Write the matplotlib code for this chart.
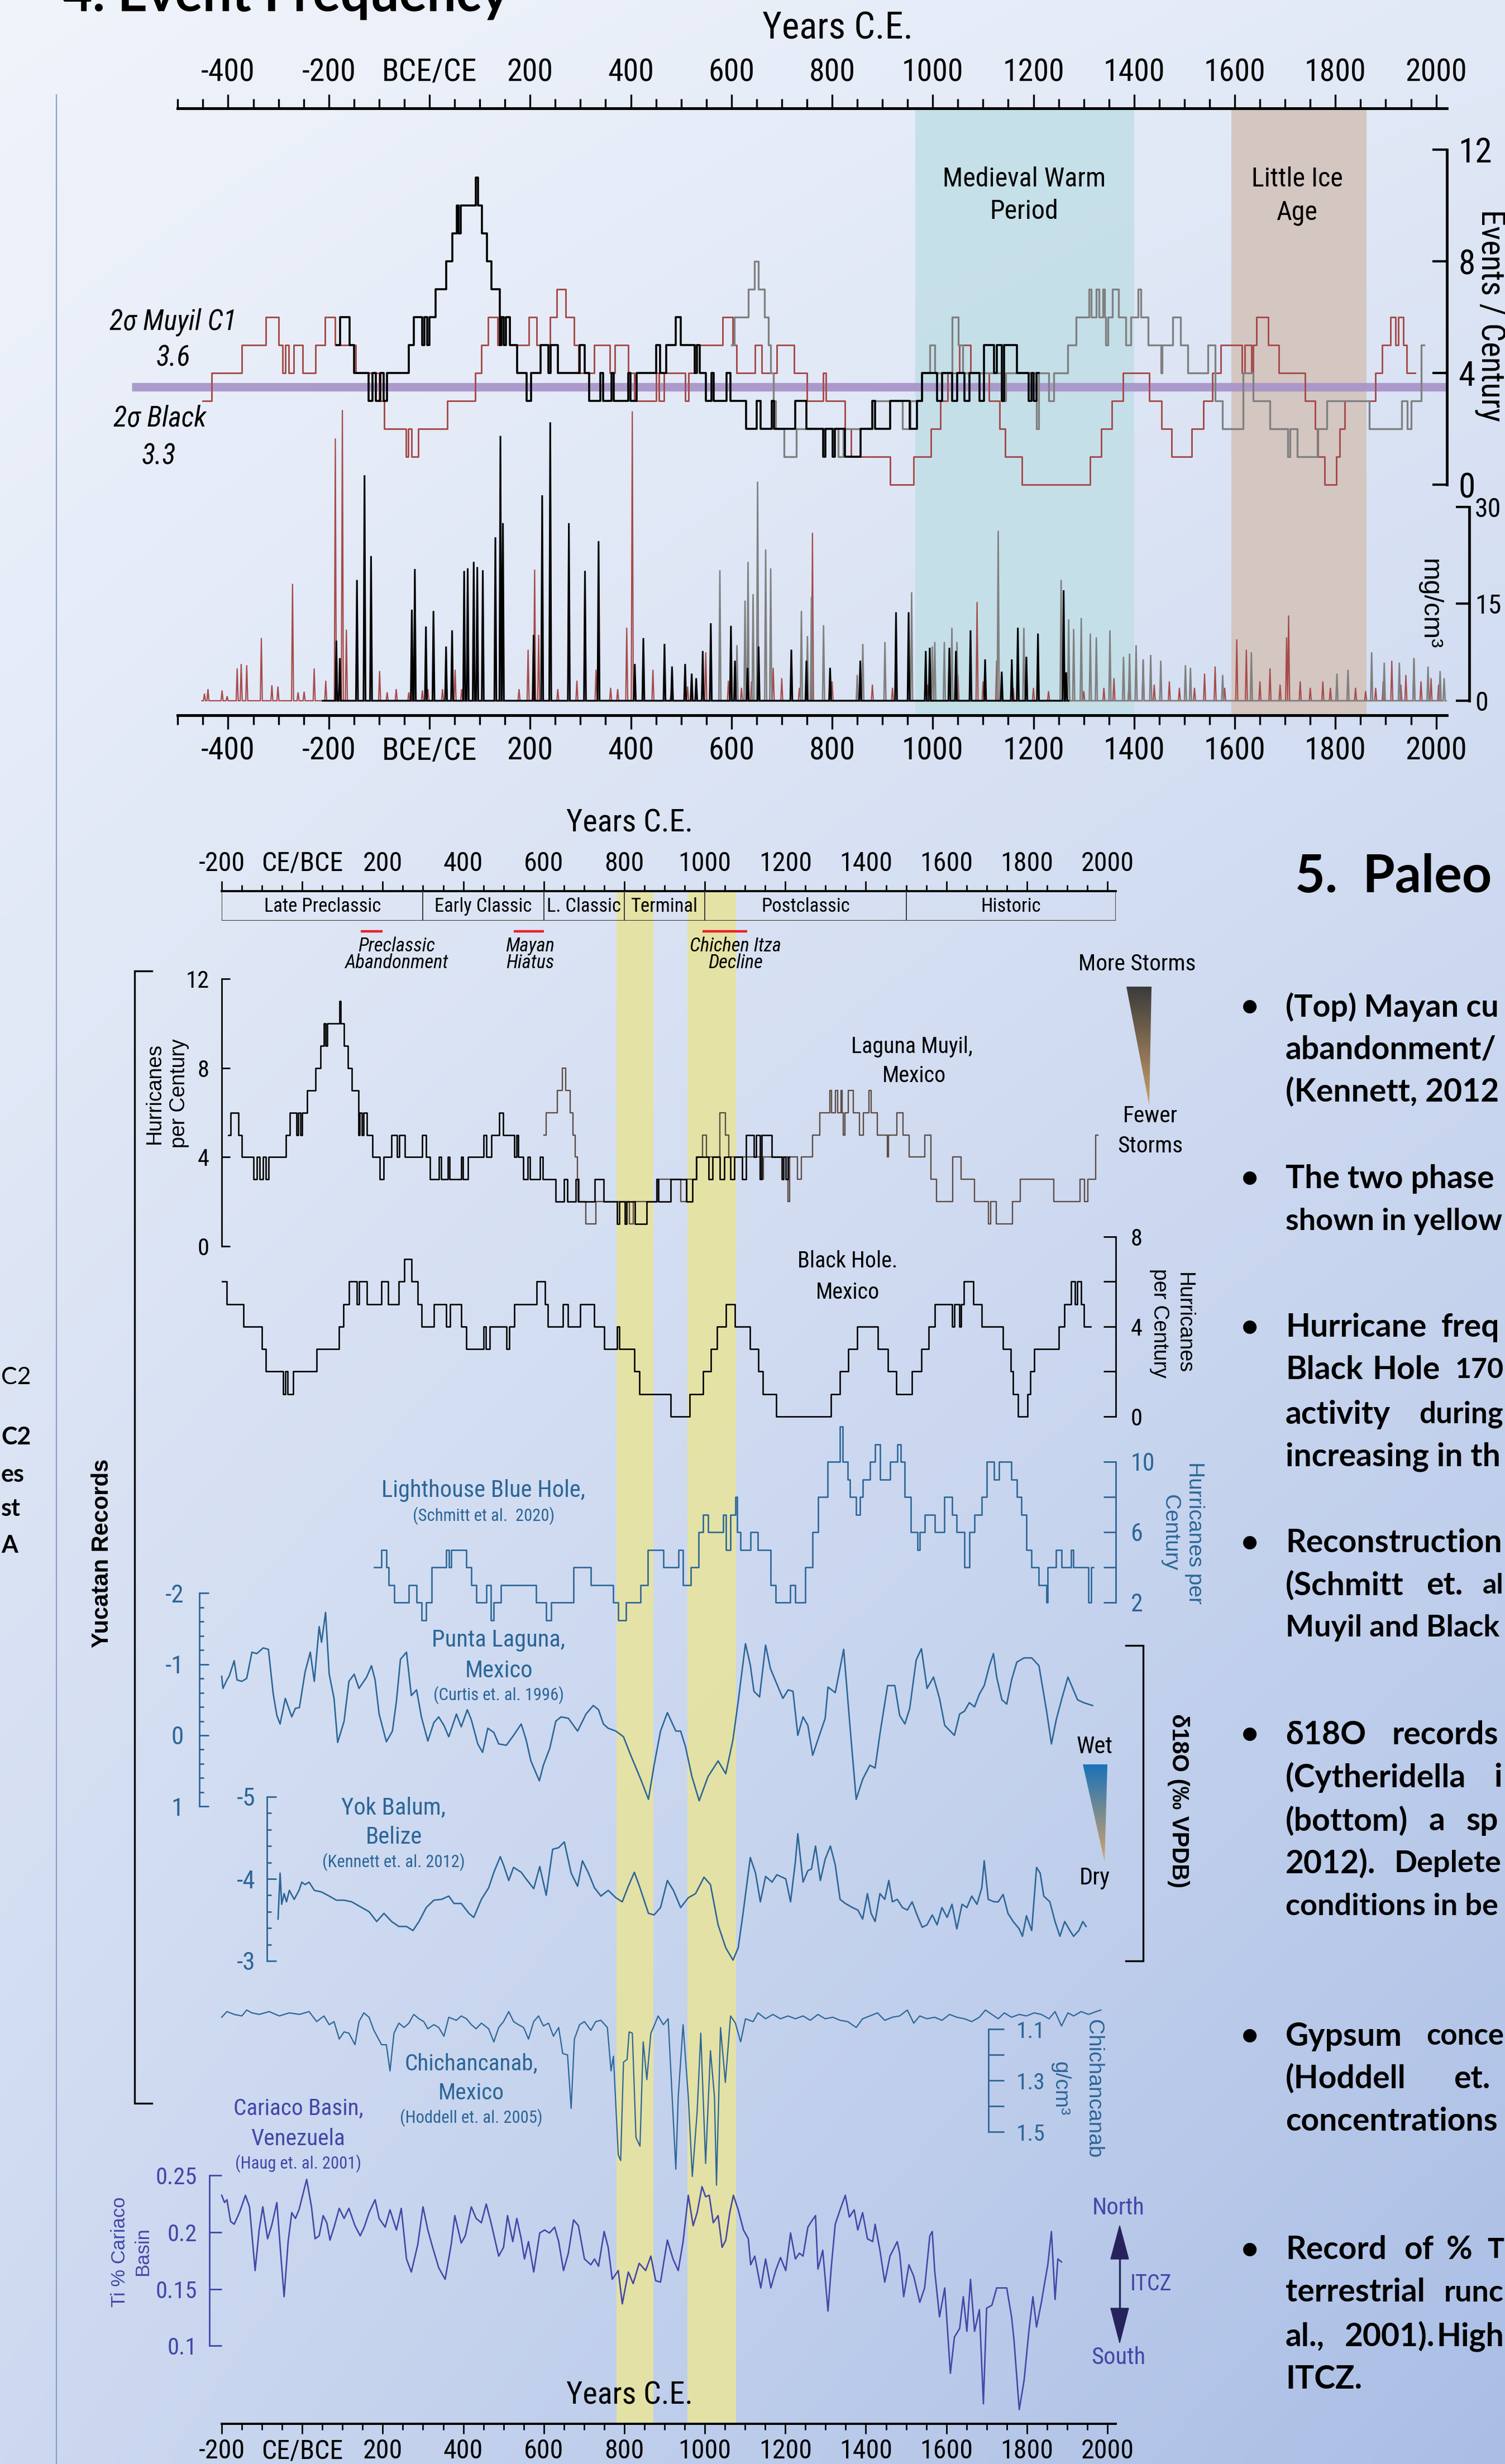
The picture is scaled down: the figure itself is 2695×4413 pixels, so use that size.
import numpy as np
import matplotlib
matplotlib.use("Agg")
import matplotlib.pyplot as plt
from matplotlib import font_manager
from matplotlib.colors import LinearSegmentedColormap
from matplotlib.patches import Polygon
from matplotlib.ticker import FixedLocator, FixedFormatter

# ---------------------------------------------------------------- data
# Hurricane frequency reconstructions: (start year CE, events per century)
MUYIL_C1 = [(-184, 5), (-178, 6), (-159, 5), (-150, 4), (-121, 3), (-113, 4), (-106, 3), (-98, 4),
            (-91, 3), (-84, 4), (-41, 5), (-31, 6), (-14, 5), (-10, 6), (-4, 5), (0, 6), (12, 7),
            (33, 8), (45, 9), (54, 10), (58, 9), (62, 10), (92, 11), (96, 10), (104, 9), (114, 8),
            (123, 7), (140, 5), (143, 6), (148, 5), (152, 6), (160, 5), (174, 4), (193, 3), (202, 4),
            (221, 5), (236, 4), (241, 5), (255, 4), (298, 5), (308, 4), (317, 3), (340, 4), (345, 3),
            (362, 4), (366, 3), (395, 4), (399, 3), (412, 4), (451, 5), (458, 4), (470, 5), (489, 6),
            (499, 5), (527, 4), (532, 5), (537, 4), (549, 3), (560, 4), (565, 3), (590, 4), (598, 3),
            (629, 2), (650, 3), (658, 2), (680, 3), (685, 2), (727, 3), (749, 2), (782, 1), (787, 2),
            (801, 1), (806, 2), (826, 1), (856, 2), (880, 3), (885, 2), (915, 3), (954, 2), (969, 3),
            (979, 4), (1009, 3), (1019, 4), (1038, 3), (1048, 4), (1063, 3), (1073, 4), (1093, 3),
            (1102, 5), (1122, 4), (1127, 5), (1137, 3), (1142, 5), (1167, 4), (1191, 3), (1196, 4),
            (1201, 3), (1206, 4)]
MUYIL_C1_END = 1210

MUYIL_C2 = [(600, 5), (606, 6), (633, 7), (646, 8), (654, 7), (666, 6), (673, 5), (678, 4), (683, 3),
            (688, 2), (705, 1), (729, 2), (812, 1), (822, 2), (880, 3), (940, 2), (955, 3), (979, 4),
            (994, 5), (1004, 4), (1038, 6), (1051, 5), (1060, 4), (1137, 3), (1145, 4), (1206, 2),
            (1211, 4), (1230, 3), (1240, 4), (1268, 5), (1285, 6), (1310, 7), (1315, 6), (1325, 7),
            (1330, 6), (1338, 7), (1341, 6), (1344, 5), (1348, 6), (1357, 7), (1369, 6), (1384, 5),
            (1394, 6), (1408, 7), (1413, 6), (1428, 5), (1453, 4), (1456, 5), (1477, 6), (1492, 5),
            (1507, 4), (1547, 5), (1561, 3), (1576, 2), (1616, 4), (1636, 3), (1670, 2), (1705, 1),
            (1710, 2), (1724, 1), (1764, 2), (1783, 3), (1867, 2), (1932, 3), (1943, 2), (1951, 3),
            (1971, 5)]
MUYIL_C2_END = 1976

BLACK_HOLE = [(-450, 3), (-433, 4), (-373, 5), (-325, 6), (-300, 5), (-292, 4), (-286, 5), (-280, 4),
              (-270, 5), (-252, 4), (-226, 5), (-207, 6), (-188, 5), (-146, 4), (-100, 3), (-90, 2),
              (-47, 1), (-42, 2), (-36, 1), (-22, 2), (36, 3), (91, 4), (103, 5), (116, 6), (135, 5),
              (141, 6), (160, 5), (197, 6), (213, 5), (240, 6), (253, 7), (271, 6), (287, 5), (296, 4),
              (327, 5), (358, 4), (368, 5), (395, 4), (407, 3), (450, 4), (456, 3), (466, 4), (508, 3),
              (515, 4), (527, 5), (582, 6), (603, 5), (610, 4), (647, 5), (660, 4), (690, 5), (725, 4),
              (750, 3), (782, 4), (788, 3), (825, 2), (838, 1), (915, 0), (962, 1), (996, 2), (1015, 3),
              (1030, 4), (1053, 5), (1075, 4), (1112, 3), (1133, 2), (1144, 1), (1177, 0), (1313, 1),
              (1335, 2), (1356, 3), (1378, 4), (1430, 3), (1455, 2), (1475, 1), (1515, 2), (1538, 3),
              (1556, 4), (1572, 5), (1614, 4), (1620, 5), (1633, 4), (1636, 5), (1643, 6), (1667, 5),
              (1688, 4), (1740, 3), (1760, 2), (1765, 1), (1778, 0), (1802, 1), (1808, 2), (1818, 3),
              (1880, 4), (1893, 5), (1910, 6), (1920, 5), (1925, 6), (1935, 5), (1942, 4)]
BLACK_HOLE_END = 1958

LIGHTHOUSE = [(178, 4), (197, 5), (209, 4), (215, 3), (228, 2), (265, 3), (284, 2), (296, 1), (308, 2),
              (321, 4), (358, 5), (364, 4), (370, 5), (407, 4), (420, 3), (432, 2), (457, 3), (469, 1),
              (476, 2), (494, 3), (581, 2), (606, 1), (618, 2), (674, 4), (717, 3), (773, 2), (785, 1),
              (804, 2), (841, 3), (859, 5), (897, 4), (934, 5), (946, 3), (965, 4), (984, 6), (996, 7),
              (1008, 6), (1045, 7), (1052, 5), (1064, 7), (1076, 8), (1080, 6), (1089, 5), (1114, 6),
              (1132, 5), (1163, 3), (1176, 2), (1212, 3), (1225, 2), (1250, 4), (1268, 6), (1281, 8),
              (1305, 10), (1336, 12), (1342, 10), (1355, 9), (1361, 8), (1376, 7), (1386, 8), (1392, 9),
              (1410, 10), (1423, 11), (1435, 9), (1460, 10), (1478, 11), (1487, 10), (1497, 8),
              (1512, 6), (1528, 5), (1534, 6), (1546, 7), (1571, 6), (1595, 8), (1614, 7), (1626, 6),
              (1645, 4), (1657, 6), (1670, 7), (1688, 8), (1700, 10), (1719, 9), (1731, 10), (1762, 9),
              (1775, 8), (1787, 7), (1799, 5), (1812, 4), (1830, 3), (1849, 2), (1852, 4), (1873, 5),
              (1886, 4), (1910, 5), (1916, 4), (1953, 2), (1960, 4)]
LIGHTHOUSE_END = 1966

# Coarse event layers (mg/cm3): spike years and heights for each core
C1_SPIKE_YEAR = [-185, -178, -144, -129, -116, -35, -29, -7, 8, 33, 45, 69, 76, 88, 95, 106, 131, 141,
                 146, 207, 224, 240, 277, 309, 336, 408, 425, 467, 482, 508, 521, 530, 543, 559, 599,
                 607, 632, 654, 719, 749, 796, 856, 927, 952, 986, 994, 1033, 1046, 1075, 1104, 1137,
                 1157, 1169, 1186, 1209, 1260, 1265]
C1_SPIKE_MG = [9.3, 6.6, 18.7, 34.9, 22.4, 14.1, 20.4, 11.5, 13.9, 8.4, 10.9, 20.1, 20.5, 21.5, 20.7,
               20.2, 25.3, 41.0, 27.5, 10.2, 31.8, 43.1, 27.5, 20.1, 24.7, 5.7, 9.7, 8.8, 5.3, 5.7, 4.2,
               3.5, 7.7, 12.0, 11.6, 6.2, 5.1, 8.4, 7.9, 6.2, 5.1, 6.2, 13.7, 13.7, 7.7, 8.2, 8.2, 7.7,
               10.9, 6.4, 4.5, 6.4, 11.3, 6.8, 10.4, 17.1, 4.4]
BH_SPIKE_YEAR = [-447, -440, -412, -402, -382, -374, -363, -334, -313, -301, -272, -261, -249, -229,
                 -206, -187, -173, -165, -99, -84, -66, -41, -14, -3, 26, 51, 64, 178, 196, 209, 217,
                 255, 293, 331, 360, 374, 392, 403, 444, 480, 513, 549, 594, 620, 640, 683, 700, 735,
                 761, 800, 850, 880, 920, 990, 1050, 1088, 1100, 1127, 1160, 1200, 1230, 1300, 1340,
                 1360, 1390, 1418, 1440, 1470, 1490, 1520, 1540, 1561, 1580, 1604, 1623, 1650, 1670,
                 1690, 1703, 1707, 1730, 1750, 1775, 1790, 1840, 1860, 1880, 1895, 1912, 1930, 1940,
                 1956, 1970, 1990, 2005]
BH_SPIKE_MG = [1.1, 1.8, 1.6, 0.7, 5.0, 5.7, 5.5, 9.7, 2.4, 2.2, 18.1, 1.3, 1.4, 5.0, 3.1, 40.6, 45.0,
               11.0, 4.6, 1.3, 1.8, 1.3, 1.6, 1.8, 1.8, 4.8, 1.8, 1.8, 7.9, 20.3, 10.2, 1.8, 3.1, 4.8,
               2.0, 1.8, 11.3, 44.8, 4.8, 0.9, 2.2, 7.5, 3.1, 2.0, 3.0, 5.1, 3.5, 2.0, 26.0, 3.0, 2.0,
               2.5, 2.0, 2.5, 4.0, 15.3, 3.0, 6.2, 2.0, 2.0, 1.5, 1.5, 2.0, 3.5, 3.0, 6.4, 2.5, 3.0,
               2.0, 2.0, 4.2, 5.3, 2.0, 9.5, 7.9, 3.0, 5.0, 2.5, 9.8, 13.2, 3.0, 2.0, 3.0, 2.0, 2.0,
               1.5, 2.0, 3.0, 6.2, 2.5, 4.0, 6.6, 3.0, 3.5, 2.5]
C2_SPIKE_YEAR = [577, 611, 627, 633, 643, 652, 668, 678, 739, 751, 759, 783, 850, 861, 905, 958, 999,
                 1004, 1023, 1038, 1048, 1130, 1181, 1255, 1270, 1280, 1295, 1313, 1325, 1352, 1379,
                 1391, 1404, 1418, 1433, 1453, 1502, 1512, 1576, 1633, 1803, 1825, 1872, 1897, 1927,
                 1956, 1984, 2008, 2016]
C2_SPIKE_MG = [20.2, 8.6, 15.5, 21.5, 16.5, 33.9, 23.4, 20.5, 13.9, 10.0, 16.1, 11.7, 4.0, 8.8, 9.1,
               16.8, 8.4, 9.1, 9.1, 11.3, 9.1, 26.3, 11.3, 18.7, 12.6, 11.1, 12.8, 10.4, 9.8, 10.9,
               6.8, 7.3, 8.6, 6.4, 7.1, 6.2, 5.5, 5.1, 4.0, 7.5, 4.2, 4.8, 7.5, 5.9, 5.9, 6.6, 5.3,
               4.6, 3.5]

# Punta Laguna ostracod d18O (per mil VPDB)
PUNTA = [(-200, -0.83), (-197, -0.66), (-187, -0.78), (-181, -0.84), (-169, -1.05), (-162, -0.78),
         (-150, -0.76), (-138, -0.80), (-125, -1.17), (-113, -1.15), (-97, -1.23), (-84, -1.21),
         (-72, -0.58), (-63, -0.28), (-55, -0.16), (-42, -0.52), (-26, -0.26), (-17, -0.38),
         (-7, -0.39), (7, -0.89), (20, -1.17), (30, -0.76), (42, -1.53), (48, -1.31), (58, -1.73),
         (67, -0.86), (79, -0.52), (88, 0.10), (104, -0.20), (116, -0.76), (129, -0.86), (141, -0.66),
         (160, -0.82), (172, -0.98), (181, -0.78), (191, -0.30), (209, 0.09), (224, -0.06),
         (234, -0.48), (244, -1.07), (259, -1.17), (271, -0.56), (284, -0.64), (296, -0.26),
         (312, 0.08), (327, -0.18), (339, -0.26), (352, -0.14), (364, 0.02), (383, -0.30),
         (395, -0.12), (410, -0.36), (420, -0.22), (436, 0.12), (448, 0.24), (461, -0.10),
         (476, -0.04), (488, 0.12), (507, 0.14), (525, 0.00), (544, -0.16), (556, 0.06), (568, 0.36),
         (589, 0.64), (599, 0.42), (615, 0.18), (630, -0.20), (643, -0.26), (661, -0.24),
         (684, -0.06), (705, -0.30), (723, -0.42), (736, -0.36), (748, -0.16), (760, -0.10),
         (779, -0.06), (798, 0.02), (816, 0.28), (841, 0.62), (860, 0.90), (874, 0.42), (890, -0.06),
         (907, -0.32), (928, -0.06), (940, -0.06), (952, 0.16), (968, 0.58), (986, 0.92),
         (1008, 0.58), (1033, 0.36), (1052, 0.54), (1070, 0.06), (1083, -0.48), (1101, -1.29),
         (1113, -0.99), (1122, -0.62), (1136, -0.54), (1151, -1.27), (1163, -0.94), (1182, -0.68),
         (1194, -0.52), (1207, -0.64), (1219, -0.62), (1231, 0.00), (1244, -0.26), (1256, -0.14),
         (1268, 0.28), (1281, 0.06), (1299, -0.24), (1306, -0.68), (1324, -0.60), (1345, -1.21),
         (1361, -0.10), (1376, 0.90), (1392, 0.62), (1410, 0.42), (1423, 0.46), (1435, -0.02),
         (1454, -0.70), (1472, -0.70), (1484, -0.28), (1497, -0.16), (1509, -0.38), (1525, -1.06),
         (1538, -1.22), (1552, -0.66), (1568, -0.82), (1583, -0.52), (1596, -0.14), (1620, 0.00),
         (1633, -0.30), (1645, -0.34), (1657, -0.46), (1670, -0.40), (1682, -0.58), (1694, -0.70),
         (1707, -0.98), (1717, -1.15), (1725, -0.82), (1738, -0.50), (1750, -0.44), (1762, -0.78),
         (1775, -1.03), (1793, -1.09), (1812, -1.09), (1830, -0.98), (1849, -0.34), (1861, 0.12),
         (1873, -0.22), (1886, -0.50), (1902, -0.82), (1914, -0.66), (1926, -0.50), (1941, -0.46),
         (1963, -0.42)]

# Yok Balum speleothem d18O (per mil VPDB)
YOK = [(-60, -3.51), (-55, -4.07), (-51, -3.69), (-45, -3.82), (-39, -3.72), (-32, -3.86),
       (-20, -3.75), (-8, -3.86), (-1, -3.96), (7, -3.93), (17, -3.96), (30, -3.86), (48, -3.84),
       (67, -3.79), (85, -3.74), (104, -3.74), (123, -3.72), (141, -3.67), (166, -3.60), (185, -3.48),
       (203, -3.58), (222, -3.48), (240, -3.42), (259, -3.42), (275, -3.37), (290, -3.48),
       (308, -3.65), (327, -3.74), (346, -3.75), (364, -3.79), (377, -3.70), (395, -3.70),
       (414, -3.58), (426, -3.53), (445, -3.75), (463, -3.89), (476, -4.08), (492, -4.27),
       (500, -4.17), (513, -3.98), (525, -4.14), (544, -4.08), (556, -4.00), (575, -3.88),
       (590, -4.15), (606, -3.80), (622, -4.36), (637, -4.38), (651, -4.45), (668, -4.07),
       (684, -3.91), (696, -4.22), (711, -4.07), (726, -3.89), (742, -3.79), (760, -3.86),
       (779, -3.77), (795, -3.72), (810, -3.91), (825, -4.08), (839, -3.89), (860, -3.58),
       (874, -3.56), (890, -3.65), (907, -3.98), (922, -3.86), (940, -3.65), (959, -3.77),
       (977, -3.82), (998, -4.02), (1014, -3.93), (1033, -3.44), (1052, -3.16), (1070, -3.01),
       (1083, -3.16), (1095, -3.58), (1113, -4.26), (1126, -4.07), (1138, -3.72), (1151, -4.03),
       (1167, -3.96), (1179, -4.05), (1201, -4.00), (1213, -3.72), (1225, -4.21), (1231, -4.55),
       (1244, -3.96), (1256, -4.10), (1265, -4.12), (1275, -4.40), (1287, -3.98), (1299, -4.24),
       (1312, -4.40), (1324, -4.17), (1336, -3.75), (1349, -3.70), (1367, -3.65), (1380, -3.62),
       (1392, -3.51), (1404, -3.82), (1413, -3.58), (1423, -3.48), (1435, -3.82), (1447, -3.75),
       (1457, -3.98), (1466, -3.72), (1478, -3.75), (1491, -3.65), (1503, -3.62), (1515, -3.72),
       (1528, -3.55), (1540, -3.41), (1552, -3.44), (1565, -3.56), (1577, -3.44), (1589, -3.65),
       (1602, -3.53), (1614, -3.69), (1626, -3.39), (1639, -3.69), (1651, -3.65), (1663, -3.79),
       (1676, -3.69), (1688, -3.89), (1694, -4.22), (1704, -3.75), (1719, -3.72), (1729, -3.72),
       (1741, -3.81), (1753, -3.58), (1766, -3.48), (1781, -3.39), (1789, -3.30), (1799, -3.55),
       (1812, -3.37), (1824, -4.14), (1833, -4.07), (1842, -3.79), (1857, -3.72), (1870, -3.48),
       (1882, -3.30), (1894, -3.48), (1907, -3.37), (1916, -3.30), (1929, -3.37), (1939, -3.48),
       (1947, -3.42)]

# Chichancanab sediment density (g/cm3)
CHICH = [(-200, 1.054), (-187, 1.032), (-169, 1.043), (-150, 1.049), (-138, 1.026), (-125, 1.037),
         (-107, 1.043), (-82, 1.032), (-57, 1.049), (-32, 1.037), (-7, 1.043), (17, 1.032),
         (36, 1.071), (54, 1.049), (67, 1.083), (79, 1.071), (92, 1.139), (104, 1.111), (116, 1.116),
         (131, 1.161), (141, 1.071), (153, 1.037), (166, 1.054), (178, 1.105), (197, 1.161),
         (209, 1.161), (218, 1.263), (228, 1.116), (240, 1.077), (253, 1.094), (265, 1.077),
         (277, 1.043), (290, 1.060), (302, 1.071), (312, 1.099), (327, 1.083), (339, 1.094),
         (352, 1.128), (364, 1.054), (383, 1.066), (395, 1.049), (408, 1.060), (420, 1.083),
         (432, 1.099), (445, 1.077), (463, 1.099), (476, 1.150), (488, 1.094), (500, 1.071),
         (513, 1.032), (525, 1.071), (537, 1.083), (550, 1.094), (562, 1.139), (575, 1.071),
         (587, 1.049), (599, 1.088), (612, 1.077), (624, 1.128), (637, 1.094), (647, 1.195),
         (659, 1.201), (668, 1.409), (676, 1.139), (689, 1.083), (701, 1.071), (717, 1.105),
         (729, 1.071), (742, 1.066), (758, 1.094), (767, 1.263), (773, 1.206), (785, 1.590),
         (791, 1.612), (798, 1.229), (807, 1.218), (812, 1.111), (820, 1.116), (829, 1.522),
         (839, 1.556), (847, 1.150), (856, 1.297), (866, 1.116), (874, 1.088), (884, 1.049),
         (897, 1.083), (909, 1.060), (928, 1.646), (934, 1.364), (946, 1.083), (959, 1.364),
         (969, 1.674), (981, 1.421), (990, 1.116), (1002, 1.623), (1014, 1.184), (1024, 1.364),
         (1029, 1.708), (1039, 1.094), (1051, 1.308), (1064, 1.049), (1076, 1.077), (1089, 1.150),
         (1101, 1.060), (1120, 1.071), (1132, 1.037), (1151, 1.060), (1169, 1.043), (1188, 1.060),
         (1207, 1.049), (1225, 1.060), (1244, 1.049), (1262, 1.066), (1281, 1.043), (1299, 1.060),
         (1318, 1.054), (1336, 1.066), (1355, 1.071), (1376, 1.094), (1392, 1.060), (1410, 1.049),
         (1429, 1.037), (1447, 1.066), (1466, 1.054), (1484, 1.049), (1503, 1.026), (1519, 1.077),
         (1534, 1.049), (1552, 1.060), (1571, 1.054), (1589, 1.066), (1608, 1.043), (1626, 1.054),
         (1645, 1.060), (1663, 1.071), (1682, 1.054), (1697, 1.026), (1713, 1.043), (1729, 1.060),
         (1744, 1.037), (1762, 1.054), (1781, 1.043), (1799, 1.049), (1818, 1.037), (1836, 1.043),
         (1855, 1.060), (1870, 1.032), (1886, 1.088), (1902, 1.037), (1916, 1.049), (1935, 1.032),
         (1953, 1.043), (1972, 1.032), (1984, 1.026)]

# Cariaco Basin titanium (%)
CARIACO = [(-200, 0.2326), (-193, 0.2262), (-187, 0.2287), (-178, 0.2096), (-169, 0.2071),
           (-156, 0.2173), (-141, 0.2326), (-131, 0.2224), (-117, 0.1663), (-107, 0.2020),
           (-98, 0.2224), (-86, 0.1943), (-76, 0.2058), (-63, 0.2262), (-53, 0.1790), (-45, 0.1433),
           (-35, 0.1918), (-26, 0.2173), (-17, 0.2122), (-8, 0.2198), (11, 0.2466), (23, 0.2224),
           (32, 0.1943), (42, 0.1969), (52, 0.2147), (61, 0.2084), (69, 0.1931), (79, 0.2045),
           (92, 0.2211), (104, 0.2122), (116, 0.2211), (131, 0.2058), (144, 0.1969), (154, 0.2045),
           (166, 0.2173), (181, 0.2287), (191, 0.2122), (206, 0.2045), (218, 0.2198), (234, 0.2020),
           (246, 0.2211), (259, 0.1765), (271, 0.1650), (287, 0.1892), (300, 0.2224), (312, 0.2020),
           (324, 0.1867), (339, 0.1688), (355, 0.1586), (370, 0.1892), (379, 0.2147), (395, 0.1905),
           (405, 0.1969), (420, 0.2224), (432, 0.2122), (445, 0.2084), (457, 0.2249), (469, 0.2084),
           (488, 0.1790), (500, 0.1867), (510, 0.2147), (523, 0.1918), (533, 0.2122), (544, 0.1943),
           (552, 0.1765), (562, 0.1918), (575, 0.1650), (590, 0.1994), (602, 0.2020), (614, 0.1994),
           (627, 0.2045), (637, 0.1918), (649, 0.1663), (661, 0.1816), (674, 0.2109), (686, 0.2058),
           (701, 0.1765), (717, 0.1714), (726, 0.1765), (736, 0.1701), (750, 0.2007), (760, 0.1867),
           (770, 0.1586), (785, 0.1663), (795, 0.1370), (810, 0.1650), (822, 0.1548), (837, 0.1727),
           (853, 0.1663), (866, 0.1790), (878, 0.1574), (890, 0.1561), (907, 0.1931), (921, 0.1765),
           (934, 0.1663), (946, 0.1918), (959, 0.2326), (971, 0.2058), (981, 0.2173), (993, 0.2402),
           (1002, 0.2313), (1011, 0.2326), (1021, 0.2084), (1033, 0.2147), (1043, 0.1867),
           (1052, 0.1930), (1062, 0.2173), (1071, 0.2326), (1083, 0.2198), (1096, 0.2020),
           (1108, 0.1943), (1114, 0.1714), (1124, 0.1790), (1139, 0.1510), (1151, 0.1765),
           (1164, 0.1510), (1176, 0.1663), (1188, 0.1778), (1201, 0.1663), (1213, 0.1994),
           (1225, 0.1765), (1235, 0.1816), (1244, 0.1790), (1256, 0.2045), (1265, 0.2096),
           (1275, 0.2147), (1281, 0.1676), (1293, 0.1841), (1306, 0.1306), (1314, 0.1688),
           (1324, 0.2071), (1336, 0.2198), (1349, 0.2326), (1359, 0.2134), (1371, 0.2198),
           (1380, 0.2020), (1392, 0.2173), (1404, 0.1943), (1417, 0.1918), (1423, 0.2071),
           (1435, 0.1841), (1447, 0.1561), (1460, 0.1790), (1478, 0.1918), (1484, 0.1816),
           (1494, 0.1433), (1507, 0.1714), (1519, 0.1612), (1534, 0.1383), (1546, 0.1510),
           (1559, 0.1969), (1565, 0.2007), (1571, 0.1663), (1583, 0.1255), (1596, 0.1510),
           (1610, 0.0758), (1620, 0.1077), (1633, 0.1153), (1642, 0.1433), (1651, 0.1128),
           (1660, 0.1586), (1670, 0.1128), (1682, 0.1319), (1692, 0.0490), (1700, 0.1332),
           (1713, 0.1357), (1725, 0.1510), (1737, 0.1510), (1750, 0.1510), (1762, 0.1255),
           (1768, 0.1051), (1781, 0.0439), (1793, 0.0694), (1805, 0.1128), (1815, 0.1433),
           (1824, 0.1166), (1836, 0.1383), (1842, 0.1510), (1852, 0.1714), (1861, 0.2007),
           (1870, 0.1408), (1877, 0.1765), (1886, 0.1739)]

# Climate periods and cultural events
MWP = (965, 1400)
LIA = (1593, 1862)
DROUGHT_PHASES = [(781, 872), (957, 1077)]
PERIODS = [("Late Preclassic", -200, 300), ("Early Classic", 300, 600), ("L. Classic", 600, 800),
           ("Terminal", 800, 1000), ("Postclassic", 1000, 1500), ("Historic", 1500, 2021)]
CULTURE_EVENTS = [("Preclassic\nAbandonment", 145, 200, 234), ("Mayan\nHiatus", 525, 600, 566),
                  ("Chichen Itza\nDecline", 995, 1105, 1076)]
MEAN_RATE = 3.5
TOP_MAJOR = list(range(-400, 2001, 200))
TOP_MINOR = list(range(-500, 2001, 50))
LOW_MAJOR = list(range(-200, 2001, 200))
LOW_MINOR = list(range(-200, 2001, 50))

# ---------------------------------------------------------------- fonts
_faces = font_manager.fontManager.ttflist
_names = {f.name for f in _faces}


def pick_narrow():
    # preferred condensed families, with a size factor relative to Arial Narrow
    for nm, scale in [("Liberation Sans Narrow", 1.0), ("Arial Narrow", 1.0),
                      ("Roboto Condensed", 0.96), ("Open Sans Condensed", 0.92)]:
        if nm in _names:
            return nm, "normal", scale
    for nm, scale in [("Roboto", 0.96), ("Noto Sans", 0.9), ("Open Sans", 0.9)]:
        if any(f.name == nm and f.stretch in ("condensed", "semi-condensed", "extra-condensed")
               for f in _faces):
            return nm, "condensed", scale
    return "Liberation Sans", "normal", 0.86


NARROW, NARROW_STRETCH, NS = pick_narrow()
SANS = "Liberation Sans"
BODY = "Lato" if "Lato" in _names else "DejaVu Sans"
plt.rcParams["font.family"] = [NARROW, "DejaVu Sans"]
plt.rcParams["font.stretch"] = NARROW_STRETCH

RED = "#a64b4b"
GRAY = "#808080"
BROWN = "#5d4c45"
BLUE = "#2c6698"
INDIGO = "#4547a8"
PURPLE = "#a893c9"
MWP_C = "#c3dfe8"
LIA_C = "#d4c5bf"
YELLOW = "#e7e3a0"

W, H, DPI = 2695, 4413, 100
fig = plt.figure(figsize=(W / DPI, H / DPI), dpi=DPI)

TOPX = (769.0, 0.9013)   # pixel column of year 0 and pixels per year, upper record
LOWX = (541.2, 0.7209)   # same for the Yucatan stack


def panel(xmap, xlim, ymap, ylim, z=5):
    x0 = xmap[0] + xmap[1] * xlim[0]
    x1 = xmap[0] + xmap[1] * xlim[1]
    ya = ymap[0] + ymap[1] * ylim[0]
    yb = ymap[0] + ymap[1] * ylim[1]
    ax = fig.add_axes([x0 / W, 1 - max(ya, yb) / H, (x1 - x0) / W, abs(yb - ya) / H])
    ax.set_xlim(*xlim)
    if ya > yb:
        ax.set_ylim(ylim[0], ylim[1])
    else:
        ax.set_ylim(ylim[1], ylim[0])
    ax.patch.set_visible(False)
    for s in ax.spines.values():
        s.set_visible(False)
    ax.set_xticks([])
    ax.set_yticks([])
    ax.set_zorder(z)
    return ax


def spine(ax, side, lw, color="black", bounds=None):
    sp = ax.spines[side]
    sp.set_visible(True)
    sp.set_linewidth(lw)
    sp.set_color(color)
    if bounds is not None:
        sp.set_bounds(*bounds)


def yaxis(ax, side, ticks, labels, size, length, width, pad, color="black",
          direction="in", minor=None, minor_len=0):
    ax.yaxis.set_major_locator(FixedLocator(ticks))
    ax.yaxis.set_major_formatter(FixedFormatter(labels))
    if side == "right":
        ax.yaxis.tick_right()
    else:
        ax.yaxis.tick_left()
    ax.tick_params(axis="y", which="major", direction=direction, length=length, width=width,
                   labelsize=size * NS, pad=pad, colors=color)
    if minor is not None:
        ax.yaxis.set_minor_locator(FixedLocator(minor))
        ax.tick_params(axis="y", which="minor", direction=direction, length=minor_len,
                       width=width, colors=color)


def step_xy(pairs, end):
    xs = [p[0] for p in pairs] + [end]
    ys = [p[1] for p in pairs] + [pairs[-1][1]]
    return xs, ys


def spike_xy(years, heights, start, end, half=2.0):
    xs, ys = [start], [0.0]
    for yr, h in sorted(zip(years, heights)):
        xs += [yr - half, yr, yr + half]
        ys += [0.0, h, 0.0]
    xs.append(end)
    ys.append(0.0)
    return xs, ys


# ---------------------------------------------------------------- background
bg = fig.add_axes([0, 0, 1, 1])
bg.set_zorder(-10)
yy = np.linspace(0, 1, 240)[:, None]
xx = np.linspace(0, 1, 150)[None, :]
tt = 0.2 * xx + 0.5 * yy + 0.3 * xx * yy
c0 = np.array([240, 244, 251]) / 255.0
c1 = np.array([170, 190, 229]) / 255.0
bg.imshow(c0 + (c1 - c0) * tt[..., None], extent=(0, 1, 0, 1), aspect="auto",
          interpolation="bilinear")
bg.axis("off")

# ---------------------------------------------------------------- upper record
frame = panel(TOPX, (-500, 2021), (1281, -1087), (0, 1), z=1)
frame.axvspan(*MWP, color=MWP_C, alpha=0.9, lw=0)
frame.axvspan(*LIA, color=LIA_C, alpha=0.95, lw=0)
frame.xaxis.set_major_locator(FixedLocator(TOP_MAJOR))
frame.xaxis.set_major_formatter(FixedFormatter(["BCE/CE" if v == 0 else str(v) for v in TOP_MAJOR]))
frame.xaxis.set_minor_locator(FixedLocator(TOP_MINOR))
frame.tick_params(axis="x", which="both", top=True, bottom=True, labeltop=True, labelbottom=True,
                  direction="out", width=2.4, colors="black")
frame.tick_params(axis="x", which="major", length=18, labelsize=42 * NS, pad=9)
frame.tick_params(axis="x", which="minor", length=12)
spine(frame, "top", 3.6)
spine(frame, "bottom", 3.6)

ev = panel(TOPX, (-500, 2021), (868, -50.0), (0, 12), z=6)
ev.plot([-591, 2021], [MEAN_RATE, MEAN_RATE], color=PURPLE, lw=11, alpha=0.92,
        solid_capstyle="butt", clip_on=False, zorder=1)
for pairs, end, col, lw in [(BLACK_HOLE, BLACK_HOLE_END, RED, 2.1),
                            (MUYIL_C2, MUYIL_C2_END, GRAY, 2.4),
                            (MUYIL_C1, MUYIL_C1_END, "black", 2.6)]:
    xs, ys = step_xy(pairs, end)
    ev.step(xs, ys, where="post", color=col, lw=lw, clip_on=False, zorder=3)
spine(ev, "right", 3.6, bounds=(0, 12))
yaxis(ev, "right", [0, 4, 8, 12], ["0", "4", "8", "12"], 46, 19, 3.0, 15)

sp_ax = panel(TOPX, (-500, 2066), (1255, -11.57), (0, 30), z=6)
for yrs, hts, start, end, col, lw in [(BH_SPIKE_YEAR, BH_SPIKE_MG, -452, 2010, RED, 1.6),
                                      (C2_SPIKE_YEAR, C2_SPIKE_MG, 570, 2020, GRAY, 1.9),
                                      (C1_SPIKE_YEAR, C1_SPIKE_MG, -212, 1270, "black", 2.2)]:
    xs, ys = spike_xy(yrs, hts, start, end)
    sp_ax.plot(xs, ys, color=col, lw=lw, clip_on=False, solid_joinstyle="miter")
spine(sp_ax, "right", 3.6, bounds=(0, 30))
yaxis(sp_ax, "right", [0, 15, 30], ["0", "15", "30"], 36, 17, 3.0, 7)

# ---------------------------------------------------------------- Yucatan stack
lframe = panel(LOWX, (-200, 2021), (4341, -2745), (0, 1), z=1)
for a, b in DROUGHT_PHASES:
    lframe.axvspan(a, b, color=YELLOW, alpha=0.92, lw=0)
lframe.xaxis.set_major_locator(FixedLocator(LOW_MAJOR))
lframe.xaxis.set_major_formatter(FixedFormatter(["CE/BCE" if v == 0 else str(v) for v in LOW_MAJOR]))
lframe.xaxis.set_minor_locator(FixedLocator(LOW_MINOR))
lframe.tick_params(axis="x", which="both", top=True, bottom=True, labeltop=True, labelbottom=True,
                   direction="out", width=2.0, colors="black")
lframe.tick_params(axis="x", which="major", length=13, labelsize=36 * NS, pad=6)
lframe.tick_params(axis="x", which="minor", length=8)
spine(lframe, "top", 2.8)
spine(lframe, "bottom", 2.8)

per = panel(LOWX, (-200, 2021), (1649, -53), (0, 1), z=6)
per.vlines([p[1] for p in PERIODS] + [PERIODS[-1][2]], 0, 1, color="#3a3a3a", lw=1.4)
per.hlines(0, -200, 2021, color="#3a3a3a", lw=1.6)
for name, a, b in PERIODS:
    per.text((a + b) / 2, 0.48, name, ha="center", va="center", fontsize=26 * NS)

evt = panel(LOWX, (-200, 2021), (1740, -85), (0, 1), z=6)
for name, a, b, xc in CULTURE_EVENTS:
    evt.hlines(0.85, a, b, color="#e8222a", lw=3.2)
    evt.text(xc, 0.36, name, ha="center", va="center", fontsize=26 * NS, style="italic",
             linespacing=0.85)

muy = panel(LOWX, (-200, 2021), (2232, -39.9), (0, 12), z=6)
xs, ys = step_xy(MUYIL_C2, MUYIL_C2_END)
muy.step(xs, ys, where="post", color=BROWN, lw=1.7, clip_on=False)
xs, ys = step_xy(MUYIL_C1, MUYIL_C1_END)
muy.step(xs, ys, where="post", color="black", lw=1.9, clip_on=False)
spine(muy, "left", 2.0, bounds=(0, 12))
yaxis(muy, "left", [0, 4, 8, 12], ["0", "4", "8", "12"], 32, 11, 2.0, 16)

bh = panel(LOWX, (-200, 2021), (2537, -40.3), (-0.4, 8.4), z=6)
xs, ys = step_xy(BLACK_HOLE, BLACK_HOLE_END)
bh.step(xs, ys, where="post", color="black", lw=1.9)
spine(bh, "right", 2.0, bounds=(0, 8))
yaxis(bh, "right", [0, 2, 4, 6, 8], ["0", "", "4", "", "8"], 32, 16, 2.0, 19)

lbh = panel(LOWX, (-200, 2021), (2933, -31.5), (0.5, 12.5), z=6)
xs, ys = step_xy(LIGHTHOUSE, LIGHTHOUSE_END)
lbh.step(xs, ys, where="post", color=BLUE, lw=1.9)
spine(lbh, "right", 2.0, color=BLUE, bounds=(2, 10))
yaxis(lbh, "right", [2, 4, 6, 8, 10], ["2", "", "6", "", "10"], 33, 16, 2.0, 19, color=BLUE)

pl = panel(LOWX, (-255.5, 2021), (3108, 127.3), (-2, 1.05), z=6)
pl.plot([p[0] for p in PUNTA], [p[1] for p in PUNTA], color=BLUE, lw=1.9, clip_on=False)
spine(pl, "left", 2.0, color=BLUE, bounds=(-2, 1))
yaxis(pl, "left", [-2, -1, 0, 1], ["-2", "-1", "0", "1"], 34, 12, 2.0, 20, color=BLUE,
      minor=list(np.round(np.arange(-2, 1.01, 0.2), 2)), minor_len=6)

yk = panel(LOWX, (-87.6, 2021), (3953, 147), (-5, -2.95), z=6)
yk.plot([p[0] for p in YOK], [p[1] for p in YOK], color=BLUE, lw=1.9, clip_on=False)
spine(yk, "left", 2.0, color=BLUE, bounds=(-5, -3))
yaxis(yk, "left", [-5, -4, -3], ["-5", "-4", "-3"], 34, 12, 2.0, 15, color=BLUE,
      minor=list(np.round(np.arange(-5, -2.99, 0.2), 2)), minor_len=6)

ch = panel(LOWX, (-200, 2021), (3128, 460), (0.98, 1.75), z=6)
ch.plot([p[0] for p in CHICH], [p[1] for p in CHICH], color=BLUE, lw=1.6, clip_on=False)
spine(ch, "right", 2.0, color=BLUE, bounds=(1.1, 1.5))
ch.spines["right"].set_position(("data", 1704.5))
yaxis(ch, "right", [1.1, 1.2, 1.3, 1.4, 1.5], ["1.1", "", "1.3", "", "1.5"], 31, 20, 2.0, 16,
      color=BLUE, direction="out")

ca = panel(LOWX, (-230.5, 2021), (4404.8, -2034), (0.03, 0.26), z=6)
ca.plot([p[0] for p in CARIACO], [p[1] for p in CARIACO], color=INDIGO, lw=1.9, clip_on=False)
spine(ca, "left", 2.0, color=INDIGO, bounds=(0.1, 0.25))
yaxis(ca, "left", [0.1, 0.15, 0.2, 0.25], ["0.1", "0.15", "0.2", "0.25"], 32, 16, 2.0, 16,
      color=INDIGO)

# ---------------------------------------------------------------- annotations (pixel space)
ov = fig.add_axes([0, 0, 1, 1])
ov.set_zorder(50)
ov.patch.set_visible(False)
ov.axis("off")


def limits():
    ov.set_xlim(0, W)
    ov.set_ylim(H, 0)


limits()


def T(x, y, s, size, family=None, **kw):
    """Place a label in figure pixels; labels without a family use the condensed face."""
    kw.setdefault("ha", "center")
    kw.setdefault("va", "center")
    if family is None:
        size = size * NS
    else:
        kw["family"] = family
        kw["stretch"] = "normal"
    return ov.text(x, y, s, fontsize=size, **kw)


def grad_triangle(pts, c_top, c_bot):
    xs = [p[0] for p in pts]
    ys = [p[1] for p in pts]
    cmap = LinearSegmentedColormap.from_list("tri", [c_top, c_bot])
    im = ov.imshow(np.linspace(0, 1, 256)[:, None], extent=(min(xs), max(xs), max(ys), min(ys)),
                   cmap=cmap, aspect="auto", zorder=5, interpolation="bilinear")
    poly = Polygon(pts, closed=True, facecolor="none", edgecolor="none", transform=ov.transData)
    ov.add_patch(poly)
    im.set_clip_path(poly)
    limits()


# left rule and section title
ov.plot([101, 101], [170, H], color="#8c9fc4", lw=1.6)
T(112, 20, "4. Event Frequency", 67, BODY, weight="bold", ha="left", va="baseline")

# upper record labels
T(1500, 52, "Years C.E.", 50)
T(1834, 321, "Medieval Warm", 36)
T(1834, 379, "Period", 36)
T(2323, 321, "Little Ice", 36)
T(2323, 381, "Age", 36)
T(310, 577, "2σ Muyil C1", 38, style="italic")
T(310, 642, "3.6", 38, style="italic")
T(286, 750, "2σ Black", 38, style="italic")
T(284, 818, "3.3", 38, style="italic")
T(2669, 565, "Events / Century", 44, rotation=-90)
T(2559, 1082, "mg/cm³", 35, SANS, rotation=-90)

# Yucatan stack labels
T(1127, 1474, "Years C.E.", 42)
T(1127, 4290, "Years C.E.", 42)
ov.plot([272, 241, 241, 272], [1739, 1739, 3767, 3767], color="black", lw=2.4,
        solid_joinstyle="miter")
T(183, 2782, "Yucatan Records", 30, SANS, weight="bold", rotation=90)
T(299, 1958, "Hurricanes\nper Century", 27, SANS, rotation=90, linespacing=1.3)
T(1633, 1875, "Laguna Muyil,", 30)
T(1637, 1926, "Mexico", 30)
T(2036, 1726, "More Storms", 31)
grad_triangle([(2017, 1767), (2062, 1767), (2058, 1980)], "#3b3b3b", "#cba06a")
T(2060, 1998, "Fewer", 31)
T(2060, 2052, "Storms", 31)
T(1518, 2258, "Black Hole.", 30)
T(1518, 2314, "Mexico", 30)
T(2098, 2370, "Hurricanes\nper Century", 27, SANS, rotation=-90, linespacing=1.3)
T(866, 2669, "Lighthouse Blue Hole,", 32, color=BLUE)
T(866, 2715, "(Schmitt et al.  2020)", 23, color=BLUE)
T(2117, 2745, "Hurricanes per\nCentury", 28, SANS, rotation=-90, linespacing=1.3, color=BLUE)
T(893, 2937, "Punta Laguna,", 32, color=BLUE)
T(893, 2993, "Mexico", 32, color=BLUE)
T(893, 3036, "(Curtis et. al. 1996)", 23, color=BLUE)
T(705, 3238, "Yok Balum,", 32, color=BLUE)
T(705, 3291, "Belize", 32, color=BLUE)
T(705, 3335, "(Kennett et. al. 2012)", 23, color=BLUE)
T(1960, 3128, "Wet", 32)
grad_triangle([(1939, 3160), (1983, 3160), (1978, 3334)], "#1a72b8", "#d6a46a")
T(1960, 3363, "Dry", 32)
ov.plot([2016, 2047, 2047, 2016], [2947, 2947, 3512, 3512], color="black", lw=2.4,
        solid_joinstyle="miter")
T(2110, 3225, "δ18O (‰ VPDB)", 30, SANS, weight="bold", rotation=-90)
T(844, 3696, "Chichancanab,", 31, color=BLUE)
T(844, 3748, "Mexico", 31, color=BLUE)
T(844, 3793, "(Hoddell et. al. 2005)", 23, color=BLUE)
T(1958, 3741, "Chichancanab", 28, SANS, rotation=-90, color=BLUE)
T(1898, 3741, "g/cm³", 28, SANS, rotation=-90, color=BLUE)
T(534, 3776, "Cariaco Basin,", 31, color=INDIGO)
T(534, 3831, "Venezuela", 31, color=INDIGO)
T(534, 3875, "(Haug et. al. 2001)", 23, color=INDIGO)
T(235, 4033, "Ti % Cariaco\nBasin", 25, SANS, rotation=90, linespacing=1.3, color=INDIGO)
T(2003, 3955, "North", 32, color=INDIGO)
T(2061, 4090, "ITCZ", 30, color=INDIGO)
T(2003, 4222, "South", 32, color=INDIGO)
ov.plot([2005, 2005], [4040, 4140], color="#25225c", lw=2.4)
ov.add_patch(Polygon([(1989, 4046), (2021, 4046), (2005, 3986)], closed=True, color="#25225c"))
ov.add_patch(Polygon([(1989, 4134), (2021, 4134), (2005, 4196)], closed=True, color="#25225c"))

# neighbouring text columns
for y, s, w in [(2467, "C2", "normal"), (2574, "C2", "bold"), (2641, "es", "bold"),
                (2702, "st", "bold"), (2768, "A", "bold")]:
    T(2, y, s, 31, BODY, weight=w, ha="left")

T(2319, 1571, "5.  Paleo", 67, BODY, weight="bold", ha="left")
BULLET_YS = [1804, 2111, 2378, 2764, 3107, 3647, 4030]
RIGHT_LINES = [
    (1804, [("(Top) Mayan cu", 2302)]),
    (1880, [("abandonment/", 2302)]),
    (1956, [("(Kennett, 2012", 2302)]),
    (2111, [("The two phase", 2302)]),
    (2187, [("shown in yellow", 2302)]),
    (2378, [("Hurricane", 2302), ("freq", 2581)]),
    (2454, [("Black", 2302), ("Hole", 2457), ("170", 2621)]),
    (2533, [("activity", 2302), ("during", 2541)]),
    (2609, [("increasing in th", 2302)]),
    (2764, [("Reconstruction", 2302)]),
    (2840, [("(Schmitt", 2302), ("et.", 2554), ("al", 2657)]),
    (2916, [("Muyil and Black", 2302)]),
    (3107, [("δ18O", 2302), ("records", 2492)]),
    (3183, [("(Cytheridella", 2302), ("i", 2675)]),
    (3262, [("(bottom)", 2302), ("a", 2559), ("sp", 2626)]),
    (3338, [("2012).", 2302), ("Deplete", 2497)]),
    (3414, [("conditions in be", 2302)]),
    (3647, [("Gypsum", 2302), ("conce", 2554)]),
    (3723, [("(Hoddell", 2302), ("et.", 2603)]),
    (3799, [("concentrations", 2302)]),
    (4030, [("Record", 2302), ("of", 2514), ("%", 2590), ("T", 2675)]),
    (4106, [("terrestrial", 2302), ("runc", 2586)]),
    (4185, [("al.,", 2302), ("2001).", 2408), ("High", 2572)]),
    (4261, [("ITCZ.", 2302)]),
]
for y in BULLET_YS:
    T(2238, y, "•", 40, BODY, weight="bold")

renderer = fig.canvas.get_renderer()
for y, words in RIGHT_LINES:
    last = None
    for word, x in words:
        last = T(x, y, word, 41, BODY, weight="bold", ha="left")
    # the column runs to the page edge: tighten, then nudge, the closing fragment onto the page
    size = last.get_fontsize()
    while last.get_window_extent(renderer).x1 > W - 2 and size > 36:
        size -= 1
        last.set_fontsize(size)
    over = last.get_window_extent(renderer).x1 - (W - 2)
    if over > 0:
        x0, y0 = last.get_position()
        last.set_position((x0 - over, y0))

limits()
fig.savefig("out.png", dpi=DPI)
